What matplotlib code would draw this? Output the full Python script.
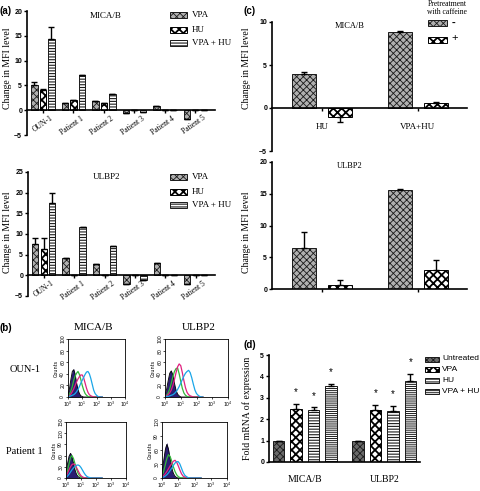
import matplotlib
matplotlib.use("Agg")
import matplotlib.pyplot as plt
from matplotlib.patches import Rectangle
from matplotlib.transforms import ScaledTranslation

W, H = 480, 491
SERIF = "Liberation Serif"
SANS = "Liberation Sans"
plt.rcParams["hatch.linewidth"] = 0.7

# ---------------- data ----------------
# (a) change in MFI level, per sample, three treatments
samples = ["OUN-1", "Patient 1", "Patient 2", "Patient 3", "Patient 4", "Patient 5"]
a_mica_vpa = [5.0, 1.5, 1.9, -0.5, 0.8, -1.7]
a_mica_hu = [4.0, 2.0, 1.5, 0.0, 0.0, 0.0]
a_mica_vpahu = [14.4, 7.0, 3.2, -0.3, 0.0, 0.0]
a_mica_vpa_err = [0.6, 0, 0, 0, 0, 0]
a_mica_hu_err = [0.3, 0, 0, 0, 0, 0]
a_mica_vpahu_err = [2.4, 0, 0, 0, 0, 0]

a_ulbp_vpa = [7.5, 4.3, 2.7, -2.2, 2.9, -2.2]
a_ulbp_hu = [6.3, 0.0, 0.0, 0.0, 0.0, 0.0]
a_ulbp_vpahu = [17.6, 11.8, 7.2, -1.2, 0.0, 0.0]
a_ulbp_vpa_err = [1.5, 0, 0, 0, 0, 0]
a_ulbp_hu_err = [2.8, 0, 0, 0, 0, 0]
a_ulbp_vpahu_err = [2.2, 0, 0, 0, 0, 0]

# (c) caffeine pretreatment
c_groups = ["HU", "VPA+HU"]
c_mica_minus = [4.0, 8.8]
c_mica_minus_err = [0.2, 0.15]
c_mica_plus = [-1.1, 0.6]
c_mica_plus_err = [0.5, 0.1]
c_ulbp_minus = [6.5, 15.6]
c_ulbp_minus_err = [2.5, 0.2]
c_ulbp_plus = [0.6, 3.0]
c_ulbp_plus_err = [0.8, 1.5]

# (d) fold mRNA expression
d_genes = ["MICA/B", "ULBP2"]
d_treat = ["Untreated", "VPA", "HU", "VPA + HU"]
d_untreated = [1.0, 1.0]
d_vpa = [2.5, 2.45]
d_hu = [2.45, 2.4]
d_vpahu = [3.55, 3.8]
d_untreated_err = [0.0, 0.0]
d_vpa_err = [0.22, 0.2]
d_hu_err = [0.1, 0.22]
d_vpahu_err = [0.08, 0.32]

# (b) flow cytometry histograms, x in log10 units
hist_x = [0.0, 0.1, 0.2, 0.3, 0.4, 0.5, 0.6, 0.7, 0.8, 0.9, 1.0, 1.1, 1.2,
          1.3, 1.4, 1.5, 1.6, 1.7, 1.8, 1.9, 2.0, 2.1, 2.2, 2.3, 2.4]
oun_mica = {
    "iso": [6, 18, 34, 46, 49, 36, 22, 11, 5, 2, 1, 0, 0, 0, 0, 0, 0, 0, 0, 0, 0, 0, 0, 0, 0],
    "ctrl": [4, 14, 30, 44, 47, 40, 25, 13, 6, 2, 1, 0, 0, 0, 0, 0, 0, 0, 0, 0, 0, 0, 0, 0, 0],
    "green": [2, 5, 10, 18, 29, 36, 41, 44, 39, 30, 20, 12, 6, 3, 1, 0, 0, 0, 0, 0, 0, 0, 0, 0, 0],
    "pink": [1, 2, 5, 9, 14, 20, 26, 31, 35, 38, 38, 33, 24, 15, 8, 4, 2, 1, 0, 0, 0, 0, 0, 0, 0],
    "cyan": [0, 1, 2, 3, 4, 6, 9, 13, 18, 24, 29, 34, 39, 43, 44, 40, 32, 22, 12, 6, 3, 1, 0, 0, 0],
}
oun_ulbp = {
    "iso": [5, 16, 32, 44, 46, 34, 20, 10, 4, 2, 1, 0, 0, 0, 0, 0, 0, 0, 0, 0, 0, 0, 0, 0, 0],
    "ctrl": [4, 13, 28, 41, 45, 38, 24, 12, 5, 2, 0, 0, 0, 0, 0, 0, 0, 0, 0, 0, 0, 0, 0, 0, 0],
    "green": [1, 3, 7, 14, 24, 35, 44, 49, 50, 40, 27, 15, 7, 3, 1, 0, 0, 0, 0, 0, 0, 0, 0, 0, 0],
    "pink": [1, 2, 4, 7, 12, 20, 30, 42, 52, 57, 54, 42, 28, 16, 8, 4, 2, 1, 0, 0, 0, 0, 0, 0, 0],
    "cyan": [0, 1, 1, 2, 3, 4, 6, 9, 13, 18, 24, 30, 36, 41, 44, 46, 42, 33, 22, 12, 6, 3, 1, 0, 0],
}
p1_mica = {
    "iso": [20, 45, 62, 68, 55, 35, 18, 8, 3, 1, 0, 0, 0, 0, 0, 0, 0, 0, 0, 0, 0, 0, 0, 0, 0],
    "ctrl": [15, 38, 58, 66, 58, 40, 22, 10, 4, 1, 0, 0, 0, 0, 0, 0, 0, 0, 0, 0, 0, 0, 0, 0, 0],
    "green": [8, 20, 38, 55, 60, 52, 38, 24, 13, 6, 2, 1, 0, 0, 0, 0, 0, 0, 0, 0, 0, 0, 0, 0, 0],
    "pink": [5, 12, 22, 30, 36, 38, 35, 28, 20, 12, 6, 3, 1, 0, 0, 0, 0, 0, 0, 0, 0, 0, 0, 0, 0],
    "cyan": [2, 5, 10, 16, 22, 27, 31, 34, 35, 33, 28, 21, 14, 8, 4, 2, 1, 0, 0, 0, 0, 0, 0, 0, 0],
}
p1_ulbp = {
    "iso": [18, 45, 68, 76, 60, 36, 18, 8, 3, 1, 0, 0, 0, 0, 0, 0, 0, 0, 0, 0, 0, 0, 0, 0, 0],
    "ctrl": [12, 36, 60, 72, 62, 42, 22, 10, 4, 1, 0, 0, 0, 0, 0, 0, 0, 0, 0, 0, 0, 0, 0, 0, 0],
    "green": [5, 14, 28, 42, 50, 46, 36, 24, 14, 7, 3, 1, 0, 0, 0, 0, 0, 0, 0, 0, 0, 0, 0, 0, 0],
    "pink": [2, 5, 9, 14, 20, 26, 31, 36, 38, 34, 26, 17, 9, 4, 2, 1, 0, 0, 0, 0, 0, 0, 0, 0, 0],
    "cyan": [1, 2, 4, 7, 11, 16, 21, 27, 32, 35, 35, 30, 21, 12, 6, 3, 1, 0, 0, 0, 0, 0, 0, 0, 0],
}
hist_ylims = [100, 100, 150, 120]
hist_yticks = [[0, 20, 40, 60, 80, 100], [0, 20, 40, 60, 80, 100],
               [0, 30, 60, 90, 120, 150], [0, 30, 60, 90, 120]]

# ---------------- styles ----------------
# "hlw" = hatch line width, applied per patch
S_VPA = dict(facecolor="#b0b0b0", edgecolor="#1a1a1a", hatch="xxxxx", hlw=0.6)
S_HU = dict(facecolor="white", edgecolor="black", hatch="xxxx", hlw=1.3)
S_VPAHU = dict(facecolor="white", edgecolor="#1a1a1a", hatch="------", hlw=0.8)
S_UNT = dict(facecolor="#6a6a6a", edgecolor="#1a1a1a", hatch="xxxxx", hlw=0.6)
S_VPAHU_D = dict(facecolor="white", edgecolor="#1a1a1a", hatch="--------", hlw=0.7)

fig = plt.figure(figsize=(W / 100, H / 100), dpi=100)


def px_axes(x0, y0, x1, y1):
    return fig.add_axes([x0 / W, 1 - y1 / H, (x1 - x0) / W, (y1 - y0) / H])


def fig_text(x, y, s, **kw):
    fig.text(x / W, 1 - y / H, s, **kw)


def split_style(style):
    st = dict(style)
    hlw = st.pop("hlw", 0.7)
    return st, hlw


def set_hlw(patch, hlw):
    if hasattr(patch, "set_hatch_linewidth"):
        patch.set_hatch_linewidth(hlw)


def legend_patch(x, y, w, h, style):
    st, hlw = split_style(style)
    with plt.rc_context({"hatch.linewidth": hlw}):
        r = Rectangle((x / W, 1 - (y + h / 2) / H), w / W, h / H,
                      transform=fig.transFigure, lw=0.7, **st)
        set_hlw(r, hlw)
        fig.add_artist(r)


def prism_axes(ax, ylim, yticks):
    ax.set_ylim(*ylim)
    ax.set_yticks(yticks)
    for s in ["top", "right"]:
        ax.spines[s].set_visible(False)
    ax.spines["left"].set_linewidth(1.2)
    ax.spines["bottom"].set_linewidth(1.2)
    ax.spines["bottom"].set_position(("data", 0))
    ax.tick_params(axis="y", length=2.5, width=1, pad=1, labelsize=5)
    ax.tick_params(axis="x", length=2, width=1, direction="out")
    for t in ax.get_yticklabels():
        t.set_fontweight("bold")
        t.set_family(SANS)
    ax.set_facecolor("none")


def bars(ax, xs, vals, errs, width, style):
    st, hlw = split_style(style)
    with plt.rc_context({"hatch.linewidth": hlw}):
        bc = ax.bar(xs, vals, width=width, lw=0.7, zorder=2, **st)
        for p in bc:
            set_hlw(p, hlw)
    up = [e if v >= 0 else 0 for v, e in zip(vals, errs)]
    dn = [e if v < 0 else 0 for v, e in zip(vals, errs)]
    ax.errorbar(xs, vals, yerr=[dn, up], fmt="none", ecolor="black",
                elinewidth=1.0, capsize=2.5, capthick=1.0, zorder=3)


# ---------------- (a) ----------------
def panel_a(ax, title, vpa, hu, vpahu, e1, e2, e3, ylim, yticks, leg_y):
    xs = list(range(len(samples)))
    off, w = 0.28, 0.21
    bars(ax, [x - off for x in xs], vpa, e1, w, S_VPA)
    bars(ax, xs, hu, e2, w, S_HU)
    bars(ax, [x + off for x in xs], vpahu, e3, w, S_VPAHU)
    ax.set_xlim(-0.52, 5.64)
    prism_axes(ax, ylim, yticks)
    ax.set_xticks(xs)
    ax.set_xticklabels([])
    tr = ax.transData + ScaledTranslation(0.07, -0.04, fig.dpi_scale_trans)
    for x, s in zip(xs, samples):
        ax.text(x, 0, s, transform=tr, rotation=35, rotation_mode="anchor",
                ha="right", va="top", fontsize=5.5, family=SERIF)
    ax.text(0.42, 0.99, title, transform=ax.transAxes, ha="center", va="top",
            fontsize=6.5, family=SERIF)
    for i, (lab, st) in enumerate([("VPA", S_VPA), ("HU", S_HU), ("VPA + HU", S_VPAHU)]):
        y = leg_y[i]
        legend_patch(170, y, 17, 5, st)
        fig_text(192, y, lab, fontsize=6.5, family=SERIF, va="center")


ax_a1 = px_axes(27, 11, 215, 135)
panel_a(ax_a1, "MICA/B", a_mica_vpa, a_mica_hu, a_mica_vpahu,
        a_mica_vpa_err, a_mica_hu_err, a_mica_vpahu_err,
        (-5, 20), [-5, 0, 5, 10, 15, 20], [15, 30, 43])
ax_a2 = px_axes(28, 172, 215, 296)
panel_a(ax_a2, "ULBP2", a_ulbp_vpa, a_ulbp_hu, a_ulbp_vpahu,
        a_ulbp_vpa_err, a_ulbp_hu_err, a_ulbp_vpahu_err,
        (-5, 25), [-5, 0, 5, 10, 15, 20, 25], [177, 192, 205])
fig_text(0, 11, "(a)", fontsize=7, fontweight="bold", family=SANS, va="center")
for yc in [68, 232]:
    fig_text(8, yc, "Change in MFI level", fontsize=7, family=SERIF,
             rotation=90, ha="center", va="center")

# ---------------- (c) ----------------
def panel_c(ax, title, minus, me, plus, pe, ylim, yticks, labels):
    xs = list(range(len(c_groups)))
    off, w = 0.185, 0.25
    bars(ax, [x - off for x in xs], minus, me, w, S_VPA)
    bars(ax, [x + off for x in xs], plus, pe, w, S_HU)
    ax.set_xlim(-0.52, 1.51)
    prism_axes(ax, ylim, yticks)
    ax.set_xticks(xs)
    if labels:
        ax.set_xticklabels(c_groups, fontsize=6.5, family=SERIF)
        ax.tick_params(axis="x", pad=9)
    else:
        ax.set_xticklabels([])
    ax.text(0.4, 1.0, title, transform=ax.transAxes, ha="center", va="top",
            fontsize=6, family=SERIF)


ax_c1 = px_axes(272, 22, 467, 151)
panel_c(ax_c1, "MICA/B", c_mica_minus, c_mica_minus_err, c_mica_plus,
        c_mica_plus_err, (-5, 10), [-5, 0, 5, 10], True)
ax_c2 = px_axes(272, 162, 467, 289)
panel_c(ax_c2, "ULBP2", c_ulbp_minus, c_ulbp_minus_err, c_ulbp_plus,
        c_ulbp_plus_err, (0, 20), [0, 5, 10, 15, 20], False)
fig_text(243, 11, "(c)", fontsize=7, fontweight="bold", family=SANS, va="center")
for yc in [68, 232]:
    fig_text(247, yc, "Change in MFI level", fontsize=7, family=SERIF,
             rotation=90, ha="center", va="center")
fig_text(447, 8, "Pretreatment\nwith caffeine", fontsize=5.5, family=SERIF,
         ha="center", va="center", linespacing=1.1)
legend_patch(428, 23, 19, 5, S_VPA)
legend_patch(428, 40, 19, 5, S_HU)
fig_text(452, 23, "-", fontsize=8, family=SANS, va="center", fontweight="bold")
fig_text(451, 38, "+", fontsize=8, family=SANS, va="center")

# ---------------- (d) ----------------
ax_d = px_axes(269, 355, 420, 462)
d_vals = [d_untreated, d_vpa, d_hu, d_vpahu]
d_errs = [d_untreated_err, d_vpa_err, d_hu_err, d_vpahu_err]
d_styles = [S_UNT, S_HU, S_VPAHU, S_VPAHU_D]
d_offs = [-0.33, -0.11, 0.11, 0.33]
gx = list(range(len(d_genes)))
for vals, errs, st, off, tr_name in zip(d_vals, d_errs, d_styles, d_offs, d_treat):
    xs = [x + off for x in gx]
    bars(ax_d, xs, vals, errs, 0.15, st)
    if tr_name != "Untreated":
        for x, v, e in zip(xs, vals, errs):
            ax_d.text(x, v + e + 0.55, "*", ha="center", va="center",
                      fontsize=7, family=SANS)
ax_d.set_xlim(-0.45, 1.45)
prism_axes(ax_d, (0, 5), [0, 1, 2, 3, 4, 5])
ax_d.set_xticks(gx)
ax_d.set_xticklabels(d_genes, fontsize=7, family=SERIF)
ax_d.tick_params(axis="x", length=0, pad=9)
fig_text(243, 345, "(d)", fontsize=7, fontweight="bold", family=SANS, va="center")
fig_text(247, 408, "Fold mRNA of expression", fontsize=7, family=SERIF,
         rotation=90, ha="center", va="center")
for i, (lab, st) in enumerate(zip(d_treat, d_styles)):
    y = 359 + i * 10.7
    legend_patch(425, y, 14, 5, st)
    fig_text(442, y, lab, fontsize=6, family=SANS, va="center")

# ---------------- (b) ----------------
hist_boxes = [(68, 339, 125, 397), (165, 339, 228, 397),
              (66, 422, 126, 478), (162, 422, 227, 478)]
hist_sets = [oun_mica, oun_ulbp, p1_mica, p1_ulbp]
colors = {"green": "#33b83a", "pink": "#e0207f", "cyan": "#1aa6e8"}
for box, hs, ylim, yt in zip(hist_boxes, hist_sets, hist_ylims, hist_yticks):
    ax = px_axes(*box)
    ax.fill_between(hist_x, hs["iso"], color="#2b1d72", lw=0)
    ax.plot(hist_x, hs["ctrl"], color="black", lw=0.6)
    for k in ["green", "pink", "cyan"]:
        ax.plot(hist_x, hs[k], color=colors[k], lw=0.9)
    ax.set_xlim(0, 4)
    ax.set_ylim(0, ylim)
    ax.set_xticks([0, 1, 2, 3, 4])
    ax.set_xticklabels(["$10^0$", "$10^1$", "$10^2$", "$10^3$", "$10^4$"])
    ax.set_yticks(yt)
    ax.tick_params(labelsize=3.3, length=1.5, width=0.5, pad=0.5)
    for t in ax.get_yticklabels():
        t.set_rotation(90)
        t.set_va("center")
    for s in ax.spines.values():
        s.set_linewidth(0.6)
    ax.set_ylabel("Counts", fontsize=3.5, labelpad=1)

fig_text(0, 328, "(b)", fontsize=7, fontweight="bold", family=SANS, va="center")
fig_text(93, 328, "MICA/B", fontsize=8, family=SERIF, ha="center", va="center")
fig_text(199, 328, "ULBP2", fontsize=8, family=SERIF, ha="center", va="center")
fig_text(25, 370, "OUN-1", fontsize=7.5, family=SERIF, ha="center", va="center")
fig_text(24, 452, "Patient 1", fontsize=7.5, family=SERIF, ha="center", va="center")

fig.savefig("out.png", dpi=100)
